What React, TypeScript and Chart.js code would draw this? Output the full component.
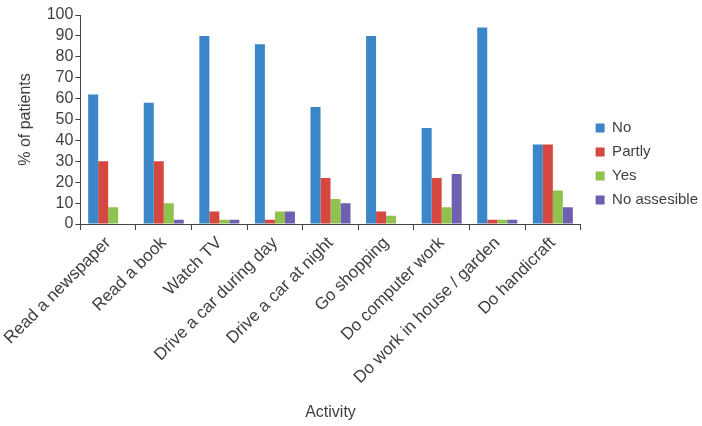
import React, { useEffect, useRef } from "react";
import { Chart, registerables } from "chart.js";

Chart.register(...registerables);

const categories = [
  "Read a newspaper",
  "Read a book",
  "Watch TV",
  "Drive a car during day",
  "Drive a car at night",
  "Go shopping",
  "Do computer work",
  "Do work in house / garden",
  "Do handicraft",
];
const seriesNames = ["No", "Partly", "Yes", "No assesible"];
const noValues = [62, 58, 90, 86, 56, 90, 46, 94, 38];
const partlyValues = [30, 30, 6, 2, 22, 6, 22, 2, 38];
const yesValues = [8, 10, 2, 6, 12, 4, 8, 2, 16];
const notAssessableValues = [0, 2, 2, 6, 10, 0, 24, 2, 8];
const seriesColors = ["#3b86c8", "#d5473f", "#8fc24f", "#6f5fb0"];
const yTitle = "% of patients";
const xTitle = "Activity";

const FONT = "'Liberation Sans', Arial, Helvetica, sans-serif";
const TEXT = "#3f3f3f";
const AXIS = "#444444";

const legendShift = {
  id: "legendShift",
  afterLayout(chart: any) {
    const l = chart.legend;
    if (l) {
      l.left += 6;
      l.right += 6;
    }
  },
};

export default function App() {
  const ref = useRef<HTMLCanvasElement | null>(null);

  useEffect(() => {
    document.body.style.margin = "0";
    const canvas = ref.current;
    if (!canvas) return;
    const allValues = [noValues, partlyValues, yesValues, notAssessableValues];
    const chart = new Chart(canvas, {
      type: "bar",
      data: {
        labels: categories,
        datasets: allValues.map((vals, i) => ({
          label: seriesNames[i],
          data: vals,
          backgroundColor: seriesColors[i],
          borderWidth: 0,
          categoryPercentage: 0.72,
          barPercentage: 1.0,
        })),
      },
      plugins: [legendShift],
      options: {
        responsive: false,
        animation: false,
        devicePixelRatio: 1,
        layout: { padding: { top: 15, right: 0, left: 12, bottom: 4 } },
        plugins: {
          tooltip: { enabled: false },
          legend: {
            position: "right",
            align: "start",
            title: {
              display: true,
              text: "",
              padding: { top: 82, bottom: 0 },
            },
            labels: {
              boxWidth: 9,
              boxHeight: 9,
              padding: 9,
              color: TEXT,
              font: { family: FONT, size: 15 },
            },
          },
        },
        scales: {
          x: {
            border: { display: true, color: AXIS, width: 1 },
            grid: {
              display: true,
              drawOnChartArea: false,
              drawTicks: true,
              tickLength: 6,
              color: AXIS,
            },
            ticks: {
              color: TEXT,
              font: { family: FONT, size: 17 },
              minRotation: 45,
              maxRotation: 45,
              padding: 3,
              autoSkip: false,
            },
            title: {
              display: true,
              text: xTitle,
              color: TEXT,
              font: { family: FONT, size: 16 },
              padding: { top: 12, bottom: 0 },
            },
          },
          y: {
            min: 0,
            max: 100,
            border: { display: true, color: AXIS, width: 1 },
            grid: {
              display: true,
              drawOnChartArea: false,
              drawTicks: true,
              tickLength: 5,
              color: AXIS,
            },
            ticks: {
              stepSize: 10,
              autoSkip: false,
              color: TEXT,
              font: { family: FONT, size: 16, lineHeight: 1 },
              padding: 2,
            },
            title: {
              display: true,
              text: yTitle,
              color: TEXT,
              font: { family: FONT, size: 16 },
              padding: { top: 0, bottom: 10 },
            },
          },
        },
      },
    });
    return () => chart.destroy();
  }, []);

  return (
    <canvas
      ref={ref}
      width={702}
      height={426}
      style={{ display: "block", width: "702px", height: "426px" }}
    />
  );
}
